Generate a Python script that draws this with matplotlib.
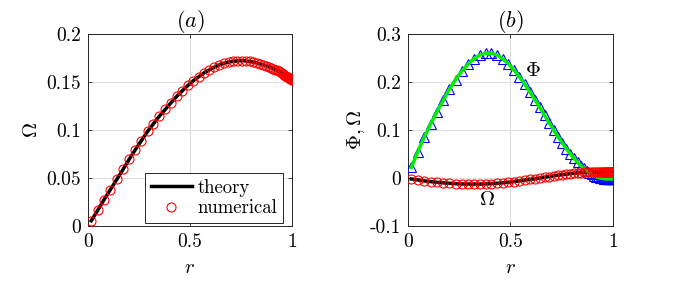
import matplotlib
matplotlib.use("Agg")
import matplotlib.pyplot as plt

plt.rcParams['font.family'] = 'cmr10'
plt.rcParams['mathtext.fontset'] = 'cm'
plt.rcParams['axes.formatter.use_mathtext'] = True

# radial grid of the numerical solution (clustered near the wall)
r = [0.016, 0.048, 0.079, 0.110, 0.141, 0.172, 0.202, 0.232, 0.262, 0.292,
     0.321, 0.350, 0.379, 0.407, 0.435, 0.463, 0.490, 0.517, 0.543, 0.569,
     0.594, 0.619, 0.643, 0.666, 0.689, 0.711, 0.732, 0.753, 0.773, 0.792,
     0.810, 0.827, 0.843, 0.858, 0.872, 0.885, 0.897, 0.908, 0.918, 0.927,
     0.935, 0.943, 0.950, 0.956, 0.962, 0.967, 0.972, 0.976, 0.980, 0.984,
     0.987, 0.990, 0.993, 0.995, 0.997, 0.999, 1.000]

# panel (a): Omega
omega_a = [0.0055, 0.0165, 0.0275, 0.0380, 0.0485, 0.0590, 0.0695, 0.0795, 0.0890, 0.0985,
           0.1065, 0.1145, 0.1215, 0.1285, 0.1350, 0.1410, 0.1465, 0.1515, 0.1555, 0.1595,
           0.1625, 0.1655, 0.1677, 0.1695, 0.1707, 0.1715, 0.1720, 0.1722, 0.1720, 0.1715,
           0.1708, 0.1700, 0.1690, 0.1680, 0.1670, 0.1660, 0.1650, 0.1640, 0.1630, 0.1620,
           0.1610, 0.1600, 0.1590, 0.1582, 0.1574, 0.1566, 0.1559, 0.1553, 0.1548, 0.1543,
           0.1539, 0.1535, 0.1532, 0.1530, 0.1528, 0.1526, 0.1525]

# panel (b): Phi and Omega
phi_b = [0.022, 0.055, 0.085, 0.112, 0.138, 0.162, 0.185, 0.205, 0.222, 0.237,
         0.248, 0.256, 0.260, 0.260, 0.256, 0.248, 0.238, 0.225, 0.211, 0.196,
         0.180, 0.163, 0.147, 0.131, 0.115, 0.100, 0.086, 0.073, 0.061, 0.050,
         0.041, 0.033, 0.026, 0.020, 0.015, 0.011, 0.008, 0.005, 0.003, 0.0015,
         0.0005, -0.0005, -0.001, -0.0015, -0.002, -0.002, -0.002, -0.002, -0.002, -0.002,
         -0.002, -0.002, -0.002, -0.002, -0.002, -0.002, -0.002]
omega_b = [-0.002, -0.004, -0.006, -0.0075, -0.009, -0.010, -0.011, -0.0118, -0.0123, -0.0126,
           -0.0127, -0.0126, -0.0123, -0.0118, -0.0110, -0.0100, -0.0088, -0.0075, -0.0060, -0.0045,
           -0.0030, -0.0015, 0.0000, 0.0015, 0.0030, 0.0045, 0.0058, 0.0070, 0.0080, 0.0090,
           0.0098, 0.0105, 0.0111, 0.0116, 0.0120, 0.0123, 0.0126, 0.0128, 0.0130, 0.0131,
           0.0132, 0.0133, 0.0133, 0.0134, 0.0134, 0.0134, 0.0135, 0.0135, 0.0135, 0.0135,
           0.0135, 0.0135, 0.0135, 0.0135, 0.0135, 0.0135, 0.0135]

xticks = [0, 0.5, 1]
xticklabels = ['0', '0.5', '1']
yticks_a = [0, 0.05, 0.1, 0.15, 0.2]
yticklabels_a = ['0', '0.05', '0.1', '0.15', '0.2']
yticks_b = [-0.1, 0, 0.1, 0.2, 0.3]
yticklabels_b = ['-0.1', '0', '0.1', '0.2', '0.3']

fs = 14

fig = plt.figure(figsize=(6.81, 2.83), dpi=100)
ax1 = fig.add_axes([0.1292, 0.2014, 0.2996, 0.6784])
ax2 = fig.add_axes([0.5991, 0.2014, 0.3010, 0.6784])


def style(ax, yticks, ylabels):
    ax.set_xlim(0, 1)
    ax.set_xticks(xticks)
    ax.set_xticklabels(xticklabels, fontsize=fs)
    ax.set_yticks(yticks)
    ax.set_yticklabels(ylabels, fontsize=fs)
    ax.set_ylim(yticks[0], yticks[-1])
    ax.grid(True, color='#e0e0e0', linewidth=0.8)
    ax.set_axisbelow(True)
    ax.tick_params(direction='in', top=True, right=True, length=3, width=0.6,
                   color='#262626', pad=5)
    for s in ax.spines.values():
        s.set_color('#262626')
        s.set_linewidth(0.7)
    ax.set_xlabel('$r$', fontsize=15, labelpad=6)


# (a)
ax1.plot(r, omega_a, color='black', linewidth=2.5, label='theory', zorder=3)
ax1.plot(r, omega_a, linestyle='none', marker='o', markersize=6.5, markerfacecolor='none',
         markeredgecolor='red', markeredgewidth=0.8, label='numerical', zorder=4)
style(ax1, yticks_a, yticklabels_a)
ax1.set_ylabel(r'$\Omega$', fontsize=15, labelpad=4)
ax1.set_title('$(a)$', fontsize=16, pad=5)
leg = ax1.legend(loc='lower right', bbox_to_anchor=(0.956, 0.016), fontsize=13.5,
                 frameon=True, fancybox=False, edgecolor='#262626', framealpha=1,
                 borderpad=0.3, handlelength=2.2, handletextpad=0.3, labelspacing=0.15,
                 borderaxespad=0)
leg.get_frame().set_linewidth(0.7)

# (b)
ax2.plot(r, phi_b, linestyle='none', marker='^', markersize=7.5, markerfacecolor='none',
         markeredgecolor='blue', markeredgewidth=0.8, zorder=3)
ax2.plot(r, phi_b, color='#00ee00', linewidth=2.5, zorder=4)
ax2.plot(r, omega_b, color='black', linewidth=2.5, zorder=3)
ax2.plot(r, omega_b, linestyle='none', marker='o', markersize=6.5, markerfacecolor='none',
         markeredgecolor='red', markeredgewidth=0.8, zorder=4)
style(ax2, yticks_b, yticklabels_b)
ax2.set_ylabel(r'$\Phi,\Omega$', fontsize=15, labelpad=2)
ax2.set_title('$(b)$', fontsize=16, pad=5)
ax2.text(0.61, 0.222, r'$\Phi$', fontsize=15, ha='center', va='center')
ax2.text(0.385, -0.045, r'$\Omega$', fontsize=15, ha='center', va='center')

fig.savefig('out.png', dpi=100)
